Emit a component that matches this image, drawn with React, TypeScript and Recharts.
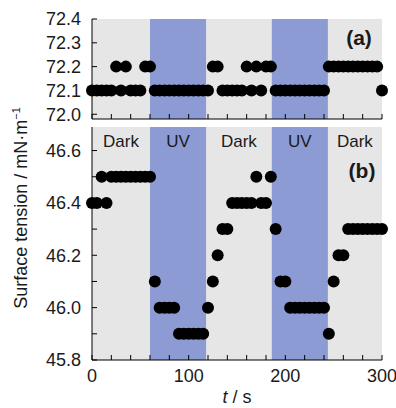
import { ScatterChart, Scatter, XAxis, YAxis, ReferenceArea } from "recharts";

// sampling times (s)
const times = [
  0, 5, 10, 15, 20, 25, 30, 35, 40, 45, 50, 55, 60, 65, 70, 75, 80, 85, 90, 95,
  100, 105, 110, 115, 120, 125, 130, 135, 140, 145, 150, 155, 160, 165, 170, 175, 180, 185, 190, 195,
  200, 205, 210, 215, 220, 225, 230, 235, 240, 245, 250, 255, 260, 265, 270, 275, 280, 285, 290, 295,
  300,
];

// (a) water surface tension, mN/m
const waterTension = [
  72.1, 72.1, 72.1, 72.1, 72.1, 72.2, 72.1, 72.2, 72.1, 72.1, 72.1, 72.2, 72.2, 72.1, 72.1, 72.1, 72.1, 72.1, 72.1, 72.1,
  72.1, 72.1, 72.1, 72.1, 72.1, 72.2, 72.2, 72.1, 72.1, 72.1, 72.1, 72.1, 72.2, 72.1, 72.2, 72.1, 72.2, 72.2, 72.1, 72.1,
  72.1, 72.1, 72.1, 72.1, 72.1, 72.1, 72.1, 72.1, 72.1, 72.2, 72.2, 72.2, 72.2, 72.2, 72.2, 72.2, 72.2, 72.2, 72.2, 72.2,
  72.1,
];

// (b) solution surface tension, mN/m
const solutionTension = [
  46.4, 46.4, 46.5, 46.4, 46.5, 46.5, 46.5, 46.5, 46.5, 46.5, 46.5, 46.5, 46.5, 46.1, 46.0, 46.0, 46.0, 46.0, 45.9, 45.9,
  45.9, 45.9, 45.9, 45.9, 46.0, 46.1, 46.2, 46.3, 46.3, 46.4, 46.4, 46.4, 46.4, 46.4, 46.5, 46.4, 46.4, 46.5, 46.3, 46.1,
  46.1, 46.0, 46.0, 46.0, 46.0, 46.0, 46.0, 46.0, 46.0, 45.9, 46.1, 46.2, 46.2, 46.3, 46.3, 46.3, 46.3, 46.3, 46.3, 46.3,
  46.3,
];

const uvPeriods = [
  [60, 118],
  [186, 244],
];
const darkPeriods = [
  [0, 60],
  [118, 186],
  [244, 300],
];

const xTicks = [0, 20, 40, 60, 80, 100, 120, 140, 160, 180, 200, 220, 240, 260, 280, 300];
const topYTicks = [72.0, 72.1, 72.2, 72.3, 72.4];
const bottomYTicks = [45.8, 45.9, 46.0, 46.1, 46.2, 46.3, 46.4, 46.5, 46.6];

const FONT = '"Liberation Sans", Arial, Helvetica, sans-serif';
const GREY = "#e6e6e6";
const BLUE = "#8c9bd3";
const tickStyle = { fontSize: 18, fill: "#1a1a1a", fontFamily: FONT };

const topData = times.map((t, i) => ({ t, v: waterTension[i] }));
const bottomData = times.map((t, i) => ({ t, v: solutionTension[i] }));

const Dot = (props: any) => <circle cx={props.cx} cy={props.cy} r={6} fill="#000" />;

const Panel = ({
  data,
  height,
  top,
  bottom,
  domain,
  yTicks,
  yFmt,
  xFmt,
  labels,
}: any) => (
  <ScatterChart width={396} height={height} margin={{ top, right: 14, left: 0, bottom: 0 }}>
    <ReferenceArea x1={0} x2={300} fill={GREY} fillOpacity={1} stroke="none" />
    {uvPeriods.map(([a, b]) => (
      <ReferenceArea
        key={"uv" + a}
        x1={a}
        x2={b}
        fill={BLUE}
        fillOpacity={1}
        stroke="none"
        label={labels ? { value: "UV", position: "insideTop", offset: 8, style: { ...tickStyle, fontSize: 17 } } : undefined}
      />
    ))}
    {labels &&
      darkPeriods.map(([a, b]) => (
        <ReferenceArea
          key={"dk" + a}
          x1={a}
          x2={b}
          fillOpacity={0}
          stroke="none"
          label={{ value: "Dark", position: "insideTop", offset: 8, style: { ...tickStyle, fontSize: 17 } }}
        />
      ))}
    <XAxis
      dataKey="t"
      type="number"
      domain={[0, 300]}
      ticks={xTicks}
      tickFormatter={xFmt}
      interval={0}
      height={bottom}
      tickSize={-5}
      tickMargin={14}
      stroke="#000"
      tick={tickStyle}
    />
    <XAxis xAxisId="top" orientation="top" type="number" dataKey="t" domain={[0, 300]} height={0} tick={false} tickLine={false} stroke="#000" />
    <YAxis
      dataKey="v"
      type="number"
      domain={domain}
      ticks={yTicks}
      tickFormatter={yFmt}
      interval={0}
      width={92}
      tickSize={-5}
      tickMargin={16}
      stroke="#000"
      tick={tickStyle}
      allowDataOverflow
    />
    <YAxis yAxisId="right" orientation="right" type="number" dataKey="v" domain={domain} width={0} tick={false} tickLine={false} stroke="#000" allowDataOverflow />
    <Scatter data={data} shape={Dot} isAnimationActive={false} />
  </ScatterChart>
);

const App = () => {
  return (
    <div style={{ position: "absolute", left: 0, top: 0, width: 396, height: 408, background: "#fff", fontFamily: FONT, color: "#1a1a1a" }}>
      <div style={{ position: "absolute", left: 0, top: 0 }}>
        <Panel
          data={topData}
          height={127}
          top={19}
          bottom={8}
          domain={[71.98, 72.4]}
          yTicks={topYTicks}
          yFmt={(v: number) => v.toFixed(1)}
          xFmt={() => ""}
          labels={false}
        />
      </div>
      <div style={{ position: "absolute", left: 0, top: 0 }}>
        <Panel
          data={bottomData}
          height={408}
          top={127}
          bottom={48}
          domain={[45.8, 46.69]}
          yTicks={bottomYTicks}
          yFmt={(v: number) => (Math.round(v * 10) % 2 === 0 ? v.toFixed(1) : "")}
          xFmt={(v: number) => (v % 100 === 0 ? String(v) : "")}
          labels={true}
        />
      </div>
      <div style={{ position: "absolute", left: 359, top: 38, transform: "translate(-50%,-50%)", fontWeight: "bold", fontSize: 21 }}>(a)</div>
      <div style={{ position: "absolute", left: 362, top: 171, transform: "translate(-50%,-50%)", fontWeight: "bold", fontSize: 21 }}>(b)</div>
      <div
        style={{
          position: "absolute",
          left: 21,
          top: 208,
          transform: "translate(-50%,-50%) rotate(-90deg)",
          whiteSpace: "nowrap",
          fontSize: 18,
        }}
      >
        Surface tension / mN·m<sup style={{ fontSize: 11 }}>−1</sup>
      </div>
      <div style={{ position: "absolute", left: 237, top: 397, transform: "translate(-50%,-50%)", whiteSpace: "nowrap", fontSize: 18, lineHeight: "20px" }}>
        <i>t</i> / s
      </div>
    </div>
  );
};

export default App;
